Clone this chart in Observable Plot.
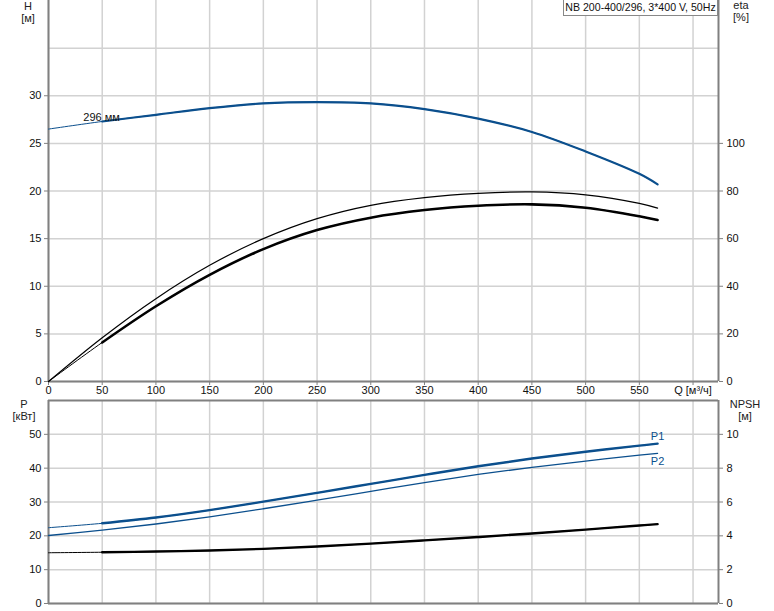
<!DOCTYPE html>
<html><head><meta charset="utf-8">
<script src="https://cdn.jsdelivr.net/npm/d3@7"></script>
<script src="https://cdn.jsdelivr.net/npm/@observablehq/plot@0.6"></script>
<style>
body{margin:0;background:#fff;font-family:"Liberation Sans",Arial,sans-serif;}
#wrap{position:relative;width:774px;height:611px;overflow:hidden;}
#wrap svg{display:block;}
.lbl{position:absolute;font-size:11px;color:#222;text-align:center;line-height:11.5px;width:50px;}
.title{position:absolute;left:563px;top:0;width:153px;height:15px;border:1px solid #888;border-top:none;background:#fff;font-size:10.6px;line-height:15px;text-align:center;color:#111;white-space:nowrap;overflow:visible;}
</style></head><body><div id="wrap"></div>
<script>
// Flow rate Q [m3/h]
const Q = [0, 50, 100, 150, 200, 250, 300, 350, 400, 450, 500, 550, 567];
// Head H [m] (impeller 296 mm)
const H = [26.5, 27.3, 28.0, 28.7, 29.2, 29.33, 29.2, 28.6, 27.6, 26.2, 24.15, 21.8, 20.7];
// Efficiencies [%]
const etaA = [0, 18.4, 34.8, 48.8, 60.0, 68.4, 74.0, 77.2, 79.0, 79.6, 78.4, 74.8, 72.8];
const etaB = [0, 16.4, 31.6, 44.8, 55.6, 63.6, 68.8, 72.0, 73.8, 74.4, 73.0, 69.4, 67.8];
// Power [kW]
const P1 = [22.4, 23.7, 25.4, 27.6, 30.1, 32.7, 35.35, 38.0, 40.55, 42.85, 44.85, 46.65, 47.25];
const P2 = [20.1, 21.7, 23.5, 25.6, 28.0, 30.55, 33.15, 35.75, 38.15, 40.25, 42.1, 43.85, 44.4];
// NPSH [m]
const NPSH = [3.0, 3.03, 3.07, 3.13, 3.23, 3.37, 3.54, 3.73, 3.93, 4.14, 4.37, 4.61, 4.69];

const qTicks = [0, 50, 100, 150, 200, 250, 300, 350, 400, 450, 500, 550, 600];
const hTicks = [0, 5, 10, 15, 20, 25, 30];
const etaTicks = [0, 20, 40, 60, 80, 100];
const pTicks = [0, 10, 20, 30, 40, 50];
const npshTicks = [0, 2, 4, 6, 8, 10];
const qMax = 623.7;

const pts = Q.map((q, i) => ({q, h: H[i], ea: etaA[i], eb: etaB[i], p1: P1[i], p2: P2[i], n: NPSH[i]}));
const thick = pts.slice(1);

const BLUE = "#0b4f8d";
const GRID = "#d2d2d2";
const AX = "#808080";
const font = {fontFamily: "'Liberation Sans', Arial, sans-serif", fontSize: "11px", color: "#111", background: "#fff"};

const chartTop = Plot.plot({
  width: 774, height: 398,
  marginLeft: 48, marginRight: 56, marginTop: 0, marginBottom: 17,
  style: font,
  x: {domain: [0, qMax], axis: null},
  y: {domain: [0, 40], axis: null},
  marks: [
    Plot.gridX(qTicks, {stroke: GRID, strokeOpacity: 1, strokeWidth: 1.5}),
    Plot.gridY([0, 5, 10, 15, 20, 25, 30, 35], {stroke: GRID, strokeOpacity: 1, strokeWidth: 1.5}),
    Plot.ruleX([0, qMax], {stroke: AX, strokeWidth: 2}),
    Plot.ruleY([0], {stroke: AX, strokeWidth: 2}),
    Plot.axisX(qTicks, {anchor: "bottom", tickSize: 4, tickPadding: 1, stroke: AX, label: null,
      tickFormat: d => d === 600 ? "Q [м³/ч]" : String(d)}),
    Plot.axisY(hTicks, {anchor: "left", tickSize: 4, tickPadding: 3, stroke: AX, label: null}),
    Plot.axisY(etaTicks.map(e => e / 4), {anchor: "right", tickSize: 4, tickPadding: 4, stroke: AX, label: null,
      tickFormat: d => String(d * 4)}),
    // efficiencies (mapped onto H axis: eta% / 4)
    Plot.line(pts, {x: "q", y: d => d.ea / 4, stroke: "#000", strokeWidth: 1.2, curve: "catmull-rom"}),
    Plot.line(pts, {x: "q", y: d => d.eb / 4, stroke: "#000", strokeWidth: 1, curve: "catmull-rom"}),
    Plot.line(thick, {x: "q", y: d => d.eb / 4, stroke: "#000", strokeWidth: 2.6, curve: "catmull-rom"}),
    // head
    Plot.line(pts, {x: "q", y: "h", stroke: BLUE, strokeWidth: 1, curve: "catmull-rom"}),
    Plot.line(thick, {x: "q", y: "h", stroke: BLUE, strokeWidth: 2.2, curve: "catmull-rom"}),
    Plot.text(["296 мм"], {x: 32.4, y: 27.7, text: d => d, textAnchor: "start", fill: "#111", fontSize: 11})
  ]
});

const chartBottom = Plot.plot({
  width: 774, height: 213,
  marginLeft: 48, marginRight: 56, marginTop: 2, marginBottom: 8,
  style: font,
  x: {domain: [0, qMax], axis: null},
  y: {domain: [0, 60], axis: null},
  marks: [
    Plot.gridX(qTicks, {stroke: GRID, strokeOpacity: 1, strokeWidth: 1.5}),
    Plot.gridY(pTicks, {stroke: GRID, strokeOpacity: 1, strokeWidth: 1.5}),
    Plot.ruleX([0, qMax], {stroke: AX, strokeWidth: 2}),
    Plot.ruleY([0, 60], {stroke: AX, strokeWidth: 2}),
    Plot.axisY(pTicks, {anchor: "left", tickSize: 4, tickPadding: 3, stroke: AX, label: null}),
    Plot.axisY(npshTicks.map(n => n * 5), {anchor: "right", tickSize: 4, tickPadding: 4, stroke: AX, label: null,
      tickFormat: d => String(d / 5)}),
    // NPSH (mapped onto P axis: m * 5)
    Plot.line(pts, {x: "q", y: d => d.n * 5, stroke: "#000", strokeWidth: 1, curve: "catmull-rom"}),
    Plot.line(thick, {x: "q", y: d => d.n * 5, stroke: "#000", strokeWidth: 2.4, curve: "catmull-rom"}),
    // power
    Plot.line(pts, {x: "q", y: "p2", stroke: BLUE, strokeWidth: 1.3, curve: "catmull-rom"}),
    Plot.line(pts, {x: "q", y: "p1", stroke: BLUE, strokeWidth: 1, curve: "catmull-rom"}),
    Plot.line(thick, {x: "q", y: "p1", stroke: BLUE, strokeWidth: 2.4, curve: "catmull-rom"}),
    Plot.text(["P1"], {x: 560.7, y: 49.5, text: d => d, textAnchor: "start", fill: BLUE, fontSize: 11}),
    Plot.text(["P2"], {x: 560.7, y: 41.9, text: d => d, textAnchor: "start", fill: BLUE, fontSize: 11})
  ]
});

const wrap = document.getElementById("wrap");
wrap.appendChild(chartTop);
wrap.appendChild(chartBottom);

function addLabel(html, left, topPx) {
  const d = document.createElement("div");
  d.className = "lbl";
  d.style.left = left + "px";
  d.style.top = topPx + "px";
  d.innerHTML = html;
  wrap.appendChild(d);
}
addLabel("H<br>[м]", 3, 1);
addLabel("eta<br>[%]", 716, 0);
addLabel("P<br>[кВт]", -1, 399);
addLabel("NPSH<br>[м]", 720, 399);

const titleBox = document.createElement("div");
titleBox.className = "title";
titleBox.textContent = "NB 200-400/296, 3*400 V, 50Hz";
wrap.appendChild(titleBox);
</script>
</body></html>
